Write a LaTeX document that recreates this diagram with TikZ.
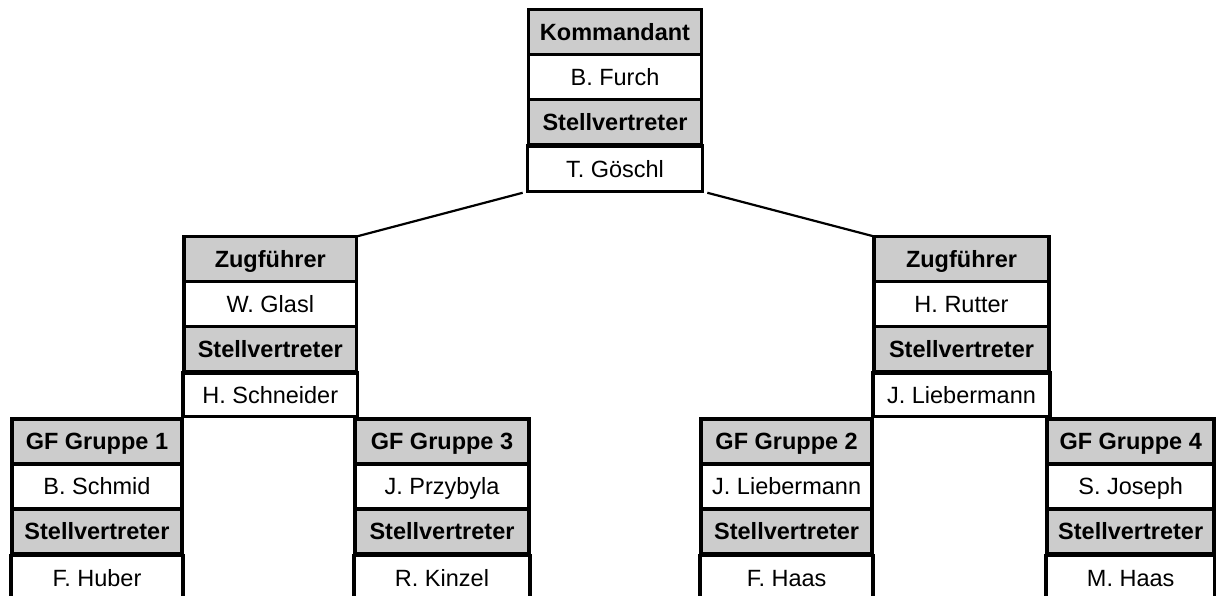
\documentclass[tikz,border=0pt]{standalone}
\usepackage{fontspec}
\setmainfont{Liberation Sans}
\definecolor{boxgray}{RGB}{204,204,204}
\tikzset{
  cell/.style={draw=black, line width=3.8pt, rectangle, inner sep=0pt, outer sep=0pt,
    minimum height=45pt, text height=16.8pt, text depth=0pt,
    font=\fontsize{23.5pt}{28pt}\selectfont, anchor=north},
  hdr/.style={cell, fill=boxgray, font=\fontsize{23.5pt}{28pt}\selectfont\bfseries},
  nm/.style={cell, fill=white},
  conn/.style={draw=black, line width=2.2pt}
}
\newcommand\orgblock[9]{%
  \node[hdr, minimum width=#4pt, anchor=north west] (#1-1) at (#2,#3) {#6};
  \node[nm, minimum width=#4pt] (#1-2) at (#1-1.south) {#7};
  \node[hdr, minimum width=#4pt] (#1-3) at (#1-2.south) {#8};
  \node[nm, minimum width=#4pt+2pt, minimum height=#5pt] (#1-4) at ([yshift=-1.5pt]#1-3.south) {#9};
}
\begin{document}
\begin{tikzpicture}[x=1pt,y=-1pt]
  \useasboundingbox (0,0) rectangle (1216,596);
  \clip (0,0) rectangle (1216,596);
  \fill[white] (0,0) rectangle (1216,596);
  % top
  \orgblock{top}{528.5}{9.5}{173}{45.5}{Kommandant}{B. Furch}{Stellvertreter}{T. Göschl}
  % platoon leaders
  \orgblock{zl}{184}{236.5}{172.5}{43.5}{Zugführer}{W. Glasl}{Stellvertreter}{H. Schneider}
  \orgblock{zr}{874.3}{236.5}{174.4}{43.5}{Zugführer}{H. Rutter}{Stellvertreter}{J. Liebermann}
  % group leaders
  \orgblock{ga}{11.7}{419}{170.5}{45}{GF Gruppe 1}{B. Schmid}{Stellvertreter}{F. Huber}
  \orgblock{gc}{355.3}{419}{173.4}{45}{GF Gruppe 3}{J. Przybyla}{Stellvertreter}{R. Kinzel}
  \orgblock{gb}{701.3}{419}{170.7}{45}{GF Gruppe 2}{J. Liebermann}{Stellvertreter}{F. Haas}
  \orgblock{gd}{1047.2}{419}{167}{45}{GF Gruppe 4}{S. Joseph}{Stellvertreter}{M. Haas}
  % connectors
  \draw[conn, shorten <=5pt] (top-4.south west) -- (zl-1.north east);
  \draw[conn, shorten <=5pt] (top-4.south east) -- (zr-1.north west);
\end{tikzpicture}
\end{document}
